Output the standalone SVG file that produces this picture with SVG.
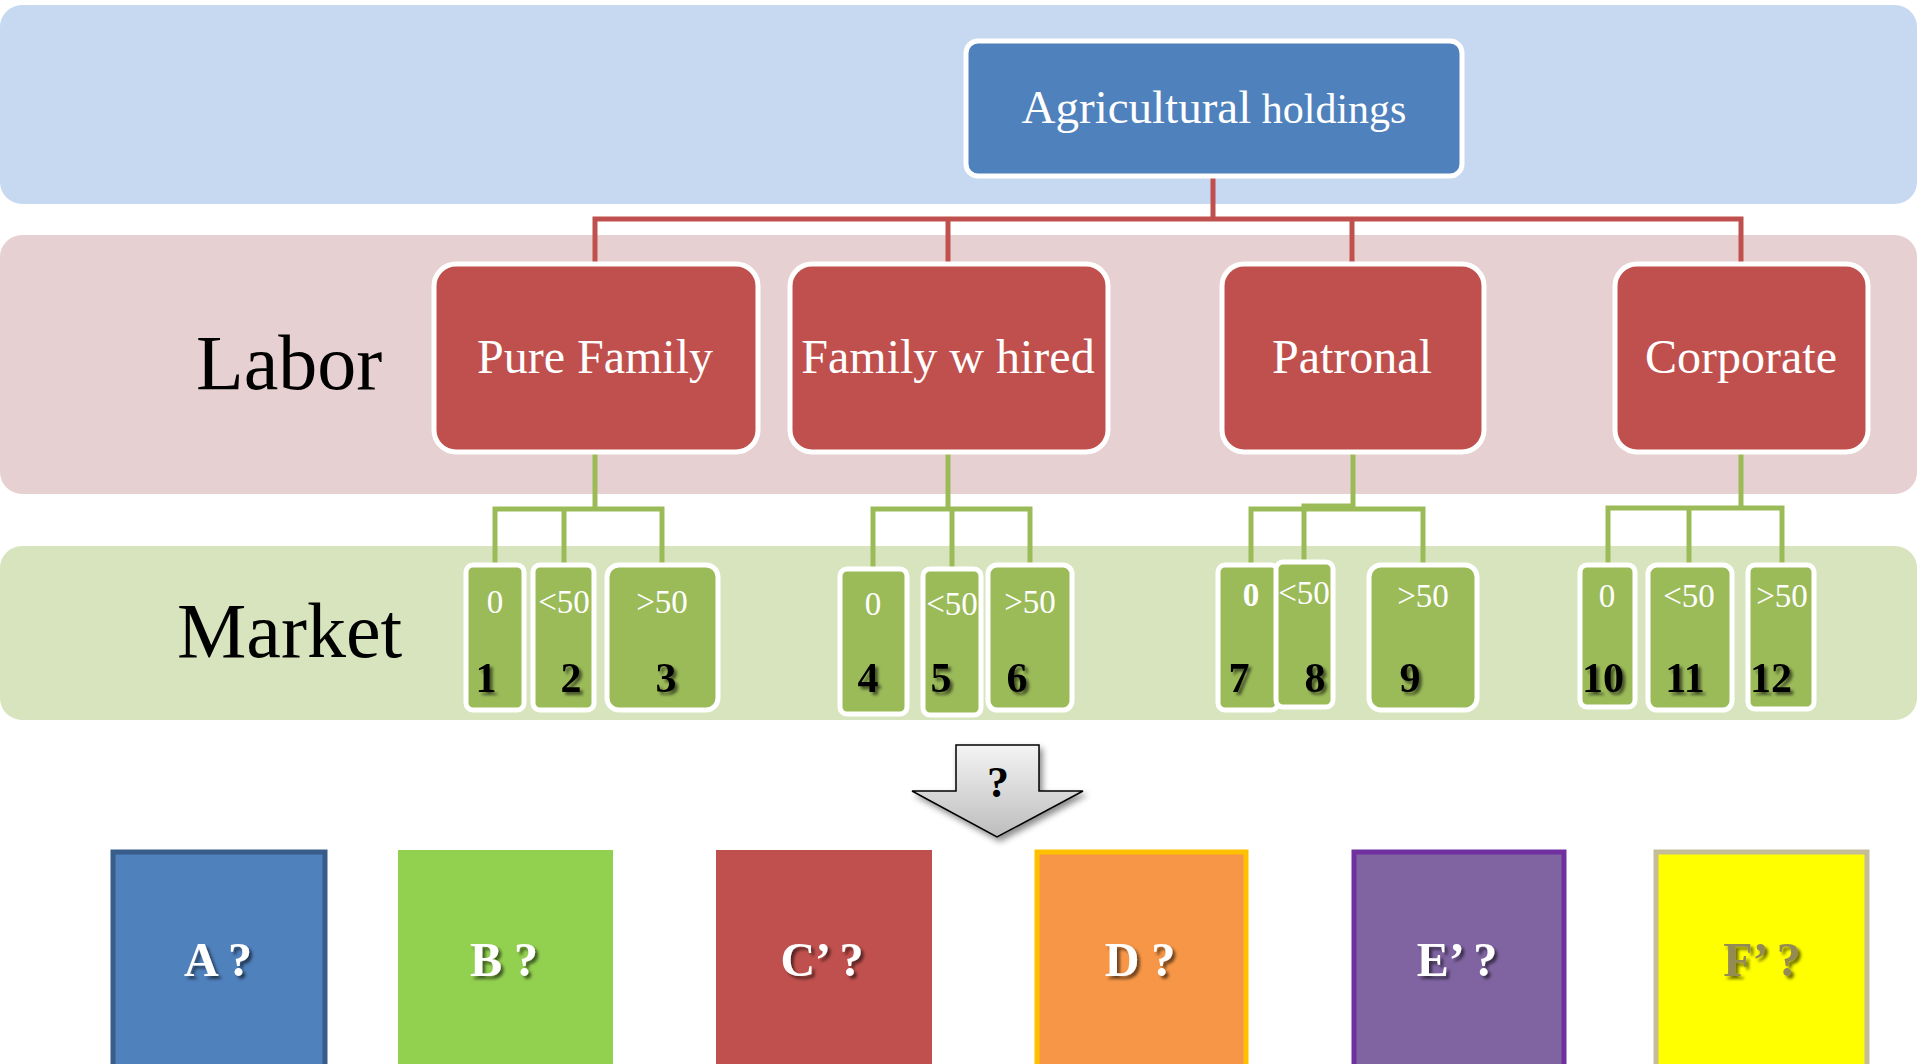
<svg xmlns="http://www.w3.org/2000/svg" width="1920" height="1064" viewBox="0 0 1920 1064">
<defs>
<filter id="tsh" x="-20%" y="-20%" width="150%" height="150%">
<feDropShadow dx="3" dy="3" stdDeviation="1.5" flood-color="#000" flood-opacity="0.55"/>
</filter>
<filter id="ash" x="-20%" y="-20%" width="150%" height="150%">
<feDropShadow dx="3" dy="4" stdDeviation="3" flood-color="#000" flood-opacity="0.45"/>
</filter>
<linearGradient id="ag" x1="0" y1="0" x2="0" y2="1">
<stop offset="0" stop-color="#f4f4f4"/>
<stop offset="1" stop-color="#bdbdbd"/>
</linearGradient>
<style>
.band{stroke:none}
.serif{font-family:"Liberation Serif","Times New Roman",serif}
.ntext{font-family:"Liberation Serif","Times New Roman",serif;fill:#fff;font-size:48px;text-anchor:middle}
.red{fill:#C0504D;stroke:#fff;stroke-width:5}
.grn{fill:#9BBB59;stroke:#fff;stroke-width:5}
.lab{font-family:"Liberation Serif","Times New Roman",serif;fill:#fff;font-size:33px;text-anchor:middle}
.num{font-family:"Liberation Serif","Times New Roman",serif;fill:#000;font-weight:bold;font-size:42px;text-anchor:middle;filter:url(#tsh)}
.rc{fill:none;stroke:#C0504D;stroke-width:5}
.gc{fill:none;stroke:#9BBB59;stroke-width:5}
.big{font-family:"Liberation Serif","Times New Roman",serif;fill:#fff;font-weight:bold;font-size:48px;text-anchor:middle;filter:url(#tsh)}
.side{font-family:"Liberation Serif","Times New Roman",serif;fill:#000;font-size:78px}
</style>
</defs>
<rect width="1920" height="1064" fill="#fff"/>
<g id="bands">
<rect class="band" x="0" y="5" width="1917" height="199" rx="22" fill="#C6D9F1"/>
<rect class="band" x="0" y="235" width="1917" height="259" rx="22" fill="#E6D0D1"/>
<rect class="band" x="0" y="546" width="1917" height="174" rx="22" fill="#D7E4BD"/>
<text class="side" x="196" y="389">Labor</text>
<text class="side" x="177" y="657">Market</text>
</g>
<g id="connectors">
<path class="rc" d="M1213 178 V219 M595 262 V219 H1741 V262 M948 219 V262 M1352 219 V262"/>
<path class="gc" d="M595 452 V509 M495 563 V509 H662 V563 M564 509 V563"/>
<path class="gc" d="M948 452 V509 M873 567 V509 H1030 V563 M952 509 V567"/>
<path class="gc" d="M1353 452 V509 M1251 563 V509 H1423 V563 M1304 560 V506 H1353"/>
<path class="gc" d="M1741 452 V508 M1608 563 V508 H1782 V563 M1689 508 V563"/>
</g>
<g id="n-root">
<rect x="966" y="41" width="496" height="135" rx="12" fill="#4F81BD" stroke="#fff" stroke-width="5"/>
<text class="serif" x="1214" y="123" fill="#fff" text-anchor="middle"><tspan font-size="47">Agricultural</tspan><tspan font-size="42"> holdings</tspan></text>
</g>
<g id="n-pure">
<rect class="red" x="434" y="264" width="324" height="188" rx="22"/>
<text class="ntext" x="595" y="373">Pure Family</text>
</g>
<g id="n-hired">
<rect class="red" x="790" y="264" width="318" height="188" rx="22"/>
<text class="ntext" x="948" y="373">Family w hired</text>
</g>
<g id="n-patronal">
<rect class="red" x="1222" y="264" width="262" height="188" rx="22"/>
<text class="ntext" x="1352" y="373">Patronal</text>
</g>
<g id="n-corporate">
<rect class="red" x="1615" y="264" width="253" height="188" rx="22"/>
<text class="ntext" x="1741" y="373">Corporate</text>
</g>
<g id="m1"><rect class="grn" x="466" y="565" width="58" height="145" rx="7"/><text class="lab" x="495" y="613">0</text><text class="num" x="486" y="692">1</text></g>
<g id="m2"><rect class="grn" x="533" y="565" width="61" height="145" rx="7"/><text class="lab" x="564" y="613">&lt;50</text><text class="num" x="571" y="692">2</text></g>
<g id="m3"><rect class="grn" x="607" y="565" width="111" height="145" rx="12"/><text class="lab" x="662" y="613">&gt;50</text><text class="num" x="666" y="692">3</text></g>
<g id="m4"><rect class="grn" x="840" y="569" width="67" height="145" rx="7"/><text class="lab" x="873" y="615">0</text><text class="num" x="868" y="692">4</text></g>
<g id="m5"><rect class="grn" x="923" y="569" width="58" height="146" rx="7"/><text class="lab" x="952" y="615">&lt;50</text><text class="num" x="941" y="692">5</text></g>
<g id="m6"><rect class="grn" x="988" y="565" width="84" height="145" rx="9"/><text class="lab" x="1030" y="613">&gt;50</text><text class="num" x="1017" y="692">6</text></g>
<g id="m7"><rect class="grn" x="1218" y="565" width="60" height="145" rx="7"/><text class="lab" x="1251" y="606" font-weight="bold" font-size="30">0</text><text class="num" x="1239" y="692">7</text></g>
<g id="m8"><rect class="grn" x="1276" y="562" width="57" height="145" rx="7"/><text class="lab" x="1304" y="604">&lt;50</text><text class="num" x="1315" y="692">8</text></g>
<g id="m9"><rect class="grn" x="1369" y="565" width="108" height="145" rx="12"/><text class="lab" x="1423" y="607">&gt;50</text><text class="num" x="1410" y="692">9</text></g>
<g id="m10"><rect class="grn" x="1580" y="565" width="55" height="142" rx="7"/><text class="lab" x="1607" y="607">0</text><text class="num" x="1603" y="692">10</text></g>
<g id="m11"><rect class="grn" x="1648" y="565" width="84" height="145" rx="9"/><text class="lab" x="1689" y="607">&lt;50</text><text class="num" x="1685" y="692">11</text></g>
<g id="m12"><rect class="grn" x="1748" y="565" width="66" height="144" rx="7"/><text class="lab" x="1782" y="607">&gt;50</text><text class="num" x="1771" y="692">12</text></g>
<g id="arrow">
<path d="M956 745 H1039 V791 H1083 L997 837 L912 791 H956 Z" fill="url(#ag)" stroke="#000" stroke-width="1.5" filter="url(#ash)"/>
<text class="serif" x="998" y="797" font-size="44" font-weight="bold" text-anchor="middle" fill="#000">?</text>
</g>
<g id="r-A"><rect x="113" y="852" width="212" height="220" fill="#4F81BD" stroke="#385D8A" stroke-width="5"/><text class="big" x="218" y="976">A ?</text></g>
<g id="r-B"><rect x="398" y="850" width="215" height="220" fill="#92D050"/><text class="big" x="504" y="976">B ?</text></g>
<g id="r-C"><rect x="716" y="850" width="216" height="220" fill="#C0504D"/><text class="big" x="822" y="976">C’ ?</text></g>
<g id="r-D"><rect x="1037" y="852" width="209" height="220" fill="#F79646" stroke="#FFC000" stroke-width="5"/><text class="big" x="1140" y="976">D ?</text></g>
<g id="r-E"><rect x="1354" y="852" width="210" height="220" fill="#8064A2" stroke="#7030A0" stroke-width="5"/><text class="big" x="1457" y="976">E’ ?</text></g>
<g id="r-F"><rect x="1656" y="852" width="211" height="220" fill="#FFFF00" stroke="#C4BD97" stroke-width="5"/><text class="big" x="1762" y="976" style="fill:#948A54">F’ ?</text></g>
</svg>
